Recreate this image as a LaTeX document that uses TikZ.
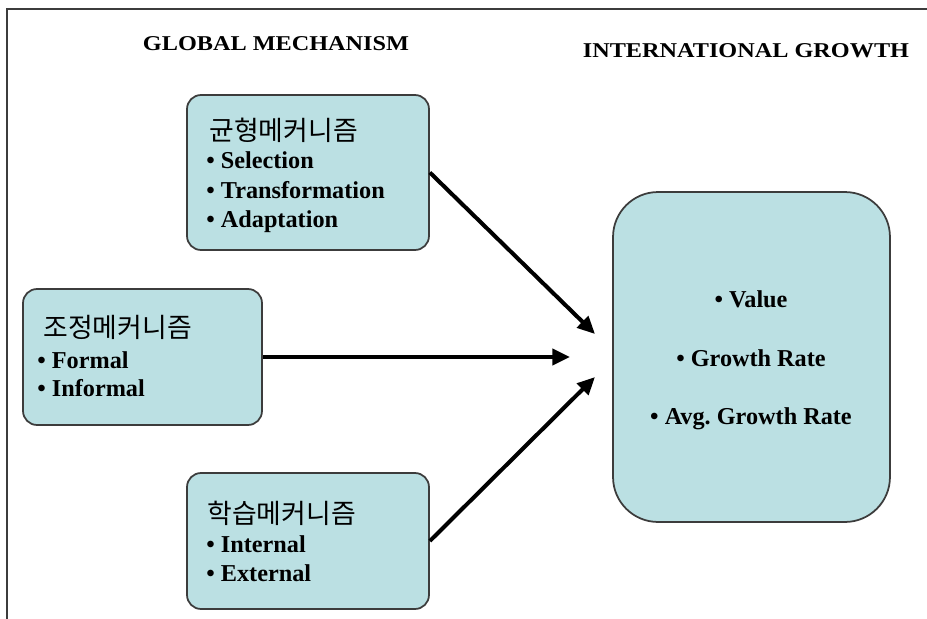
\documentclass[tikz,border=0pt]{standalone}
\usepackage{fontspec}
\setmainfont{Liberation Serif}
\newfontfamily\titlefont{Liberation Serif}[FakeStretch=1.15]
\newfontfamily\kofont{Noto Sans CJK KR}
\usetikzlibrary{arrows.meta}
\definecolor{mechfill}{RGB}{187,224,227}
\definecolor{mechline}{RGB}{60,60,60}
\tikzset{
  mech/.style={draw=mechline, fill=mechfill, line width=1pt, rounded corners=0.28cm, inner sep=0pt},
  head/.style={font=\fontsize{15.3}{18}\kofont, inner sep=0pt, anchor=west},
  item/.style={font=\fontsize{13.8}{16}\selectfont\bfseries, inner sep=0pt, anchor=base west},
  title/.style={font=\fontsize{12}{14}\titlefont\bfseries, inner sep=0pt, anchor=base},
  link/.style={line width=2.3pt, -{Triangle[length=10pt,width=9pt]}}
}

\begin{document}
\begin{tikzpicture}[x=0.02cm,y=-0.02cm]
\useasboundingbox (0,0) rectangle (927,619);
\draw[mechline, line width=0.9pt] (927,9) -- (7,9) -- (7,619);

% titles
\node[title] (gmech) at (276,50) {GLOBAL MECHANISM};
\node[title] (igrowth) at (746,57) {INTERNATIONAL GROWTH};

% boxes
\node[mech, minimum width=4.84cm, minimum height=3.1cm] (balance) at (308,172.5) {};
\node[mech, minimum width=4.78cm, minimum height=2.72cm] (coord) at (142.5,357) {};
\node[mech, minimum width=4.84cm, minimum height=2.72cm] (learn) at (308,541) {};
\node[mech, rounded corners=0.9cm, minimum width=5.54cm, minimum height=6.6cm] (growth) at (751.5,357) {};

% balance mechanism
\node[head] (balance-t) at (209,130) {균형메커니즘};
\node[item] (sel) at (206,168) {• Selection};
\node[item] (trans) at (206,198) {• Transformation};
\node[item] (adapt) at (206,227) {• Adaptation};

% coordination mechanism
\node[head] (coord-t) at (43,327) {조정메커니즘};
\node[item] (formal) at (37,368) {• Formal};
\node[item] (informal) at (37,396) {• Informal};

% learning mechanism
\node[head] (learn-t) at (207,513) {학습메커니즘};
\node[item] (internal) at (206,552) {• Internal};
\node[item] (external) at (206,581) {• External};

% growth
\node[item, anchor=base] (value) at (751,307) {• Value};
\node[item, anchor=base] (rate) at (751,366) {• Growth Rate};
\node[item, anchor=base] (avgrate) at (751,424) {• Avg.\ Growth Rate};

% arrows
\coordinate (tipa) at (595,334);
\coordinate (tipb) at (570,357);
\coordinate (tipc) at (595,377);
\draw[link] (balance.east) -- (tipa);
\draw[link] (coord.east) -- (tipb);
\draw[link] (learn.east) -- (tipc);
\end{tikzpicture}
\end{document}
